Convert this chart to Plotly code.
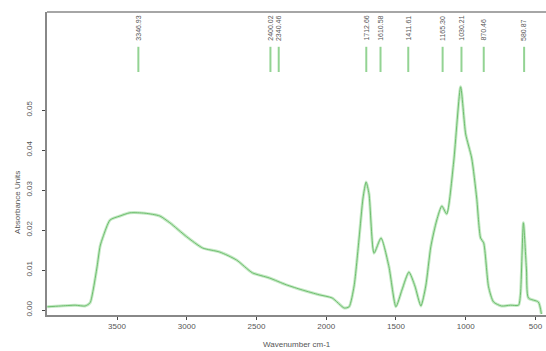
import plotly.graph_objects as go

wavenumber = [4000, 3907, 3800, 3729, 3693, 3671, 3643, 3621, 3600, 3550, 3479, 3407,
              3300, 3193, 3121, 3000, 2886, 2764, 2643, 2529, 2407, 2286, 2171, 2050,
              1957, 1871, 1836, 1800, 1764, 1736, 1714, 1693, 1657, 1607, 1550, 1500,
              1457, 1407, 1364, 1321, 1286, 1250, 1207, 1171, 1136, 1086, 1036, 1000,
              957, 921, 893, 871, 836, 800, 743, 679, 621, 607, 586, 564, 550, 479, 457]
absorbance = [0.0008, 0.0010, 0.0012, 0.0010, 0.0018, 0.0050, 0.0108, 0.0160, 0.0183,
              0.0225, 0.0235, 0.0243, 0.0242, 0.0235, 0.0218, 0.0183, 0.0155, 0.0145,
              0.0125, 0.0093, 0.0080, 0.0063, 0.0050, 0.0038, 0.0030, 0.0005, 0.0008,
              0.0060, 0.0180, 0.0280, 0.0320, 0.0290, 0.0142, 0.0180, 0.0108, 0.0008,
              0.0050, 0.0095, 0.0060, 0.0010, 0.0060, 0.0158, 0.0225, 0.0260, 0.0240,
              0.0370, 0.0558, 0.0440, 0.0380, 0.0280, 0.0180, 0.0168, 0.0058, 0.0020,
              0.0010, 0.0012, 0.0012, 0.0040, 0.0218, 0.0100, 0.0030, 0.0020, -0.0010]

peak_pos = [3346.93, 2400.02, 2340.46, 1712.66, 1610.58, 1411.61, 1165.30, 1030.21, 870.46, 580.87]
peak_labels = ["3346.93", "2400.02", "2340.46", "1712.66", "1610.58", "1411.61",
               "1165.30", "1030.21", "870.46", "580.87"]

x_ticks = [3500, 3000, 2500, 2000, 1500, 1000, 500]
y_ticks = [0.00, 0.01, 0.02, 0.03, 0.04, 0.05]
y_tick_labels = ["0.00", "0.01", "0.02", "0.03", "0.04", "0.05"]
x_title = "Wavenumber cm-1"
y_title = "Absorbance Units"

fig = go.Figure()
fig.add_trace(go.Scatter(x=wavenumber, y=absorbance, mode="lines",
                         line=dict(color="rgba(150,215,150,0.55)", width=3, shape="spline", smoothing=0.6),
                         hoverinfo="skip", showlegend=False))
fig.add_trace(go.Scatter(x=wavenumber, y=absorbance, mode="lines",
                         line=dict(color="rgb(110,190,110)", width=1, shape="spline", smoothing=0.6),
                         showlegend=False))

for p, lab in zip(peak_pos, peak_labels):
    fig.add_shape(type="line", x0=p, x1=p, y0=0.0595, y1=0.0658, xref="x", yref="y",
                  line=dict(color="rgba(120,200,120,0.8)", width=2))
    fig.add_annotation(x=p, y=0.0668, xref="x", yref="y", text=lab, textangle=-90,
                       showarrow=False, yanchor="bottom", xanchor="center",
                       font=dict(family="Liberation Sans", size=7, color="#555555"))

fig.add_shape(type="line", x0=0, x1=1, y0=1, y1=1, xref="paper", yref="paper",
              line=dict(color="#888888", width=1.5))

fig.add_annotation(x=0.5, y=-0.097, xref="paper", yref="paper", text=x_title,
                   showarrow=False, xanchor="center", yanchor="middle",
                   font=dict(family="Liberation Sans", size=8, color="#555555"))
fig.add_annotation(x=-0.058, y=0.37, xref="paper", yref="paper", text=y_title,
                   showarrow=False, xanchor="center", yanchor="middle", textangle=-90,
                   font=dict(family="Liberation Sans", size=8, color="#555555"))

fig.update_layout(
    width=546, height=351,
    margin=dict(l=47, r=0, t=12, b=36, autoexpand=False),
    plot_bgcolor="white", paper_bgcolor="white",
    font=dict(family="Liberation Sans", size=8, color="#555555"),
    xaxis=dict(range=[4002, 424], tickvals=x_ticks, ticks="outside", ticklen=3,
               showline=True, linecolor="#888888", linewidth=1.5, showgrid=False, zeroline=False,
               automargin=False, tickfont=dict(size=8)),
    yaxis=dict(range=[-0.00125, 0.0745], tickvals=y_ticks, ticktext=y_tick_labels,
               ticks="outside", ticklen=3, tickangle=-90, automargin=False,
               ticklabelstandoff=7,
               showline=True, linecolor="#888888", linewidth=1.5, showgrid=False, zeroline=False,
               tickfont=dict(size=8)),
)

fig.write_html("out.html", config={"displayModeBar": False},
               post_script="document.body.style.margin='0px';document.body.style.overflow='hidden';")
